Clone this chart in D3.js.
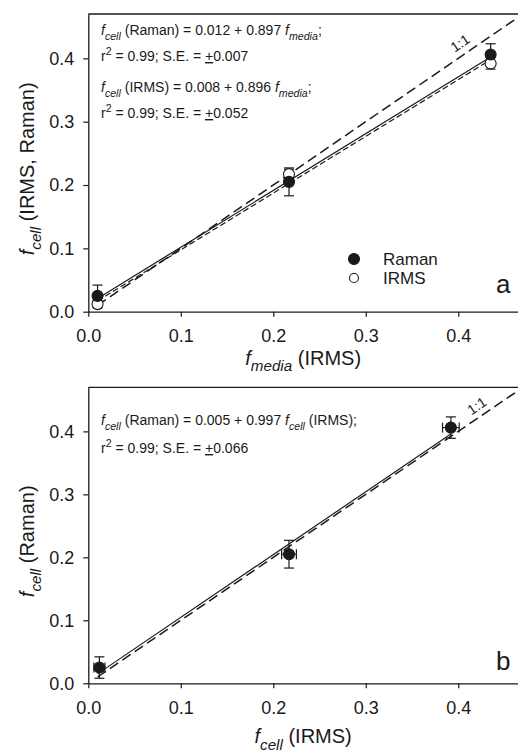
<!DOCTYPE html>
<html>
<head>
<meta charset="utf-8">
<script src="https://cdn.jsdelivr.net/npm/d3@7"></script>
<style>
  body { margin: 0; background: #fff; }
  svg { display: block; font-family: "Liberation Sans", Arial, sans-serif; }
</style>
</head>
<body>
<div id="viz"></div>
<script>
// data
var fMedia = [0.010, 0.217, 0.435];          // x of panel a
var ramanCell = [0.025, 0.205, 0.406];       // f_cell by Raman
var ramanErr = [0.017, 0.022, 0.017];
var irmsCell = [0.012, 0.217, 0.392];        // f_cell by IRMS
var irmsErr = [0.006, 0.008, 0.009];
var tickVals = [0.0, 0.1, 0.2, 0.3, 0.4];

// regression fits printed on the plot
var fitRamanA = {a: 0.012, b: 0.897};
var fitIrmsA = {a: 0.008, b: 0.896};
var fitB = {a: 0.005, b: 0.997};

var W = 518, H = 753;
var ink = "#1a1a1a";

var svg = d3.select("#viz").append("svg")
  .attr("width", W)
  .attr("height", H);

// shared x scale (right edge runs past the frame, like the source)
var x = d3.scaleLinear().domain([0, 0.47]).range([88.3, 523]);

function richText(g, px, py, size, parts) {
  var t = g.append("text")
    .attr("x", px)
    .attr("y", py)
    .attr("font-size", size)
    .attr("fill", ink);
  var shift = 0;
  parts.forEach(function(p) {
    var target = p.sub ? size * 0.33 : (p.sup ? -size * 0.42 : 0);
    var ts = t.append("tspan").text(p.t).attr("dy", target - shift);
    shift = target;
    if (p.sub || p.sup) ts.attr("font-size", size * 0.76);
    if (p.it) ts.attr("font-style", "italic");
    if (p.ul) ts.attr("text-decoration", "underline");
  });
  return t;
}

function panel(top, bottom, xTitle, yTitle, tag, tagY) {
  var y = d3.scaleLinear().domain([0, 0.47]).range([bottom, top]);
  var g = svg.append("g");

  // top frame line
  g.append("line")
    .attr("x1", x(0)).attr("x2", W)
    .attr("y1", top).attr("y2", top)
    .attr("stroke", ink).attr("stroke-width", 1.3);

  var xa = g.append("g")
    .attr("transform", "translate(0," + bottom + ")")
    .call(d3.axisBottom(x).tickValues(tickVals).tickFormat(d3.format(".1f"))
      .tickSize(5).tickSizeOuter(0).tickPadding(12.5));
  var ya = g.append("g")
    .attr("transform", "translate(" + x(0) + ",0)")
    .call(d3.axisLeft(y).tickValues(tickVals).tickFormat(d3.format(".1f"))
      .tickSize(5).tickSizeOuter(0).tickPadding(9));
  [xa, ya].forEach(function(a) {
    a.select(".domain").attr("stroke", ink).attr("stroke-width", 1.3);
    a.selectAll(".tick line").attr("stroke", ink).attr("stroke-width", 1.2);
    a.selectAll(".tick text").attr("font-size", 18).attr("fill", ink)
      .attr("font-family", "Liberation Sans, Arial, sans-serif");
  });

  // axis titles
  richText(g, (x(0) + W) / 2, bottom + xTitle.dy, 20, xTitle.parts)
    .attr("text-anchor", "middle");
  richText(g, 0, 0, 20, yTitle)
    .attr("text-anchor", "middle")
    .attr("transform", "translate(34," + ((top + bottom) / 2 + 6) + ") rotate(-90)");

  // panel letter
  g.append("text")
    .attr("x", 496).attr("y", tagY)
    .attr("font-size", 26).attr("fill", ink)
    .text(tag);

  return {g: g, y: y};
}

function fitLine(g, y, fit, x0, x1, dash, sw) {
  var line = d3.line().x(function(d) { return x(d); }).y(function(d) { return y(fit.a + fit.b * d); });
  g.append("path")
    .attr("d", line([x0, x1]))
    .attr("fill", "none")
    .attr("stroke", ink)
    .attr("stroke-width", sw || 1.2)
    .attr("stroke-dasharray", dash);
}

function vErr(g, y, xs, ys, es) {
  xs.forEach(function(xv, i) {
    var cx = x(xv), yt = y(ys[i] + es[i]), yb = y(ys[i] - es[i]);
    g.append("line").attr("x1", cx).attr("x2", cx).attr("y1", yt).attr("y2", yb)
      .attr("stroke", ink).attr("stroke-width", 1.2);
    [yt, yb].forEach(function(yy) {
      g.append("line").attr("x1", cx - 5).attr("x2", cx + 5).attr("y1", yy).attr("y2", yy)
        .attr("stroke", ink).attr("stroke-width", 1.2);
    });
  });
}

function hErr(g, y, xs, ys, es) {
  xs.forEach(function(xv, i) {
    var cy = y(ys[i]), xl = x(xv - es[i]), xr = x(xv + es[i]);
    g.append("line").attr("x1", xl).attr("x2", xr).attr("y1", cy).attr("y2", cy)
      .attr("stroke", ink).attr("stroke-width", 1.2);
    [xl, xr].forEach(function(xx) {
      g.append("line").attr("x1", xx).attr("x2", xx).attr("y1", cy - 5).attr("y2", cy + 5)
        .attr("stroke", ink).attr("stroke-width", 1.2);
    });
  });
}

function dots(g, y, xs, ys, filled) {
  g.selectAll(null)
    .data(xs)
    .enter()
    .append("circle")
    .attr("cx", function(d) { return x(d); })
    .attr("cy", function(d, i) { return y(ys[i]); })
    .attr("r", 5.5)
    .attr("fill", filled ? ink : "#fff")
    .attr("stroke", ink)
    .attr("stroke-width", 1.1);
}

function oneToOne(g, y, labelX, off) {
  fitLine(g, y, {a: 0, b: 1}, 0.01, 0.47, "10,5", 1.5);
  var ang = Math.atan2(y(0) - y(1), x(1) - x(0)) * 180 / Math.PI;
  g.append("text")
    .attr("transform", "translate(" + x(labelX) + "," + (y(labelX) - off) + ") rotate(" + (-ang) + ")")
    .attr("font-size", 14)
    .attr("fill", ink)
    .attr("text-anchor", "middle")
    .text("1:1");
}

// ---- panel a ----
var pa = panel(14, 311.7,
  {dy: 53, parts: [{t: "f", it: true}, {t: "media", it: true, sub: true}, {t: " (IRMS)"}]},
  [{t: "f", it: true}, {t: "cell", it: true, sub: true}, {t: " (IRMS, Raman)"}],
  "a", 293);

oneToOne(pa.g, pa.y, 0.405, 8);
fitLine(pa.g, pa.y, fitIrmsA, 0.010, 0.435, "6,3");
fitLine(pa.g, pa.y, fitRamanA, 0.010, 0.435, null);
vErr(pa.g, pa.y, fMedia, irmsCell, irmsErr);
vErr(pa.g, pa.y, fMedia, ramanCell, ramanErr);
dots(pa.g, pa.y, fMedia, irmsCell, false);
dots(pa.g, pa.y, fMedia, ramanCell, true);

richText(pa.g, 101, 35, 14, [{t: "f", it: true}, {t: "cell", it: true, sub: true},
  {t: " (Raman) = 0.012 + 0.897 "}, {t: "f", it: true}, {t: "media", it: true, sub: true}, {t: ";"}]);
richText(pa.g, 101, 61, 14, [{t: "r"}, {t: "2", sup: true}, {t: " = 0.99; S.E. = "}, {t: "+", ul: true}, {t: "0.007"}]);
richText(pa.g, 101, 92, 14, [{t: "f", it: true}, {t: "cell", it: true, sub: true},
  {t: " (IRMS) = 0.008 + 0.896 "}, {t: "f", it: true}, {t: "media", it: true, sub: true}, {t: ";"}]);
richText(pa.g, 101, 118, 14, [{t: "r"}, {t: "2", sup: true}, {t: " = 0.99; S.E. = "}, {t: "+", ul: true}, {t: "0.052"}]);

// legend
var legend = [{name: "Raman", filled: true}, {name: "IRMS", filled: false}];
legend.forEach(function(l, i) {
  pa.g.append("circle")
    .attr("cx", 354).attr("cy", 259 + i * 19)
    .attr("r", l.filled ? 5.5 : 4.5)
    .attr("fill", l.filled ? ink : "#fff")
    .attr("stroke", ink).attr("stroke-width", 1.1);
  pa.g.append("text")
    .attr("x", 383).attr("y", 265 + i * 19)
    .attr("font-size", 17).attr("fill", ink)
    .text(l.name);
});

// ---- panel b ----
var pb = panel(387.3, 683.3,
  {dy: 60, parts: [{t: "f", it: true}, {t: "cell", it: true, sub: true}, {t: " (IRMS)"}]},
  [{t: "f", it: true}, {t: "cell", it: true, sub: true}, {t: " (Raman)"}],
  "b", 670);

oneToOne(pb.g, pb.y, 0.423, 7);
fitLine(pb.g, pb.y, fitB, 0.010, 0.392, null);
vErr(pb.g, pb.y, irmsCell, ramanCell, ramanErr);
hErr(pb.g, pb.y, irmsCell, ramanCell, irmsErr);
dots(pb.g, pb.y, irmsCell, ramanCell, true);

richText(pb.g, 101, 425, 14, [{t: "f", it: true}, {t: "cell", it: true, sub: true},
  {t: " (Raman) = 0.005 + 0.997 "}, {t: "f", it: true}, {t: "cell", it: true, sub: true}, {t: " (IRMS);"}]);
richText(pb.g, 101, 453, 14, [{t: "r"}, {t: "2", sup: true}, {t: " = 0.99; S.E. = "}, {t: "+", ul: true}, {t: "0.066"}]);
</script>
</body>
</html>
